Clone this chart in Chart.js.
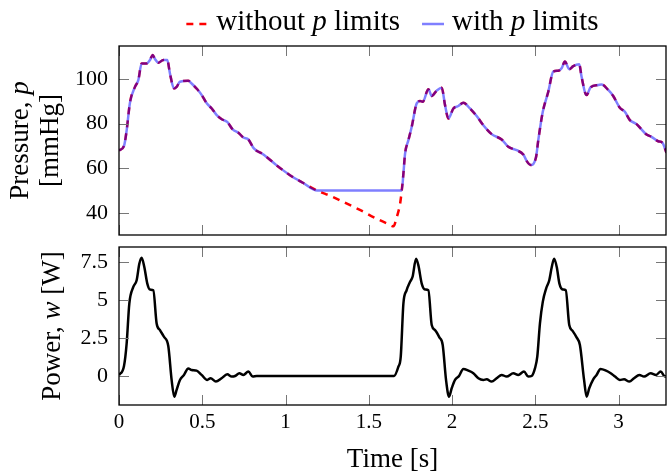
<!DOCTYPE html>
<html>
<head>
<meta charset="utf-8">
<script src="https://cdn.jsdelivr.net/npm/chart.js@4/dist/chart.umd.min.js"></script>
<style>
  body { margin: 0; background: #fff; }
  #wrap { position: relative; width: 667px; height: 473px; }
  canvas { position: absolute; left: 0; }
</style>
</head>
<body>
<div id="wrap">
  <canvas id="pressChart" width="667" height="240" style="top:0"></canvas>
  <canvas id="powerChart" width="667" height="233" style="top:240px"></canvas>
</div>
<script>
// tick values
var xTicks = [0, 0.5, 1, 1.5, 2, 2.5, 3];
var pTicks = [40, 60, 80, 100];
var wTicks = [0, 2.5, 5, 7.5];

// pressure [mmHg] over time [s]
var tPress = [
  0, 0.03, 0.046, 0.066, 0.096, 0.116, 0.136, 0.166, 0.186, 0.202,
  0.216, 0.236, 0.266, 0.29, 0.306, 0.33, 0.346, 0.366, 0.416, 0.436,
  0.47, 0.497, 0.527, 0.557, 0.587, 0.617, 0.65, 0.683, 0.717, 0.747,
  0.777, 0.81, 0.867, 0.947, 1.027, 1.107, 1.19, 1.27, 1.347, 1.45,
  1.547, 1.617, 1.648, 1.668, 1.688, 1.698, 1.708, 1.718, 1.738, 1.758,
  1.788, 1.808, 1.824, 1.858, 1.878, 1.908, 1.938, 1.958, 1.978, 2.008,
  2.038, 2.068, 2.108, 2.148, 2.188, 2.238, 2.298, 2.338, 2.388, 2.428,
  2.448, 2.472, 2.504, 2.518, 2.545, 2.578, 2.608, 2.638, 2.658, 2.678,
  2.704, 2.728, 2.764, 2.778, 2.808, 2.832, 2.878, 2.898, 2.938, 2.968,
  3.008, 3.038, 3.068, 3.108, 3.138, 3.168, 3.198, 3.238, 3.264, 3.288
];
var pWithout = [
  68, 70, 77, 89.5, 96.5, 99.5, 107, 107, 108.5, 110.8,
  109, 107.3, 108.5, 108.5, 102.5, 95.8, 96.5, 98.8, 99.2, 98,
  95.4, 92.8, 89.1, 86.8, 83.8, 82, 80.8, 77.4, 75.9, 73.8,
  72.9, 68.9, 66.2, 61.3, 56.9, 53.4, 50, 47.6, 44.9, 41.2,
  37.4, 35, 34, 38.1, 44.1, 50, 57.6, 66.6, 72.6, 78.6,
  89.1, 90.1, 89.8, 95.4, 92.4, 94.8, 96.1, 88.3, 82.3, 86.8,
  87.9, 89.4, 86.8, 83.4, 79.3, 75.3, 72.9, 69.6, 68.1, 66.2,
  63.3, 61.5, 64.8, 72.6, 85.3, 94.3, 103.3, 103.7, 104.8, 107.8,
  104.4, 105.8, 106.6, 101, 92.8, 96.3, 97.3, 97.6, 95.1, 92.4,
  87.1, 85.3, 81.6, 79.8, 77.4, 75.1, 74.1, 72.1, 71.4, 66.9
];
var pWith = [
  68, 70, 77, 89.5, 96.5, 99.5, 107, 107, 108.5, 110.8,
  109, 107.3, 108.5, 108.5, 102.5, 95.8, 96.5, 98.8, 99.2, 98,
  95.4, 92.8, 89.1, 86.8, 83.8, 82, 80.8, 77.4, 75.9, 73.8,
  72.9, 68.9, 66.2, 61.3, 56.9, 53.4, 50, 50, 50, 50,
  50, 50, 50, 50, 50, 50, 57.6, 66.6, 72.6, 78.6,
  89.1, 90.1, 89.8, 95.4, 92.4, 94.8, 96.1, 88.3, 82.3, 86.8,
  87.9, 89.4, 86.8, 83.4, 79.3, 75.3, 72.9, 69.6, 68.1, 66.2,
  63.3, 61.5, 64.8, 72.6, 85.3, 94.3, 103.3, 103.7, 104.8, 107.8,
  104.4, 105.8, 106.6, 101, 92.8, 96.3, 97.3, 97.6, 95.1, 92.4,
  87.1, 85.3, 81.6, 79.8, 77.4, 75.1, 74.1, 72.1, 71.4, 66.9
];

// power [W] over time [s]
var tPower = [
  0, 0.03, 0.046, 0.062, 0.086, 0.106, 0.122, 0.136, 0.152, 0.17,
  0.186, 0.206, 0.226, 0.246, 0.27, 0.296, 0.316, 0.332, 0.346, 0.366,
  0.39, 0.416, 0.436, 0.466, 0.496, 0.53, 0.55, 0.582, 0.616, 0.65,
  0.677, 0.697, 0.723, 0.747, 0.777, 0.803, 0.827, 1.652, 1.678, 1.692,
  1.708, 1.727, 1.748, 1.763, 1.784, 1.798, 1.818, 1.838, 1.858, 1.878,
  1.898, 1.924, 1.944, 1.964, 1.982, 1.998, 2.018, 2.042, 2.068, 2.098,
  2.128, 2.158, 2.188, 2.208, 2.238, 2.268, 2.298, 2.328, 2.368, 2.398,
  2.432, 2.458, 2.478, 2.498, 2.512, 2.528, 2.545, 2.565, 2.584, 2.599,
  2.613, 2.629, 2.645, 2.665, 2.683, 2.704, 2.724, 2.748, 2.768, 2.793,
  2.808, 2.824, 2.848, 2.868, 2.892, 2.925, 2.953, 2.979, 3.008, 3.033,
  3.065, 3.093, 3.125, 3.153, 3.193, 3.225, 3.253, 3.279, 3.29
];
var power = [
  0.05, 0.66, 2.15, 4.77, 5.86, 6.3, 7.39, 7.79, 7.17, 6.08,
  5.69, 5.64, 3.46, 3.02, 2.58, 1.97, -0.26, -1.36, -0.92, -0.26,
  0.07, 0.5, 0.39, 0.35, 0.07, -0.26, -0.15, -0.37, -0.15, 0.11,
  -0.04, 0, 0.18, 0.07, 0.29, -0.04, 0, 0, 0.61, 1.27,
  4.77, 5.64, 6.2, 6.53, 7.72, 7.28, 6.08, 5.69, 5.64, 3.35,
  3.02, 2.54, 2.04, -0.26, -1.36, -0.81, -0.26, 0, 0.46, 0.35,
  0.18, -0.15, -0.26, -0.22, -0.37, -0.15, 0.07, -0.04, 0.18, 0.07,
  0.29, -0.04, 0, 0.5, 1.27, 3.46, 4.88, 5.75, 6.3, 7.17,
  7.72, 7.17, 6.08, 5.69, 5.64, 3.35, 2.97, 2.54, 2.04, -0.26,
  -1.36, -0.81, -0.22, 0.07, 0.46, 0.35, 0.18, -0.04, -0.26, -0.22,
  -0.37, -0.15, 0.07, -0.04, 0.18, 0.07, 0.29, -0.04, 0
];

var FONT = "'Liberation Serif', 'Times New Roman', serif";
Chart.defaults.font.family = FONT;
Chart.defaults.color = '#000';
Chart.defaults.animation = false;

function pts(xs, ys) {
  return xs.map(function(x, i) { return {x: x, y: ys[i]}; });
}

function partsWidth(ctx, parts, size) {
  var w = 0;
  parts.forEach(function(p) {
    ctx.font = (p[1] ? 'italic ' : '') + size + 'px ' + FONT;
    w += ctx.measureText(p[0]).width;
  });
  return w;
}
function drawParts(ctx, parts, x, y, size) {
  parts.forEach(function(p) {
    ctx.font = (p[1] ? 'italic ' : '') + size + 'px ' + FONT;
    ctx.fillText(p[0], x, y);
    x += ctx.measureText(p[0]).width;
  });
}

// box around the plot with inner tick marks on all sides
var framePlugin = {
  id: 'frame',
  afterDatasetsDraw: function(chart) {
    var a = chart.chartArea, ctx = chart.ctx;
    var xs = chart.scales.x, ys = chart.scales.y;
    var len = 10;
    ctx.save();
    ctx.strokeStyle = '#777';
    ctx.lineWidth = 1;
    ctx.beginPath();
    xTicks.forEach(function(v) {
      var px = Math.round(xs.getPixelForValue(v)) + 0.5;
      ctx.moveTo(px, a.top); ctx.lineTo(px, a.top + len);
      ctx.moveTo(px, a.bottom); ctx.lineTo(px, a.bottom - len);
    });
    ys.ticks.forEach(function(t) {
      var py = Math.round(ys.getPixelForValue(t.value)) + 0.5;
      ctx.moveTo(a.left, py); ctx.lineTo(a.left + len, py);
      ctx.moveTo(a.right, py); ctx.lineTo(a.right - len, py);
    });
    ctx.stroke();
    ctx.strokeStyle = '#000';
    ctx.lineWidth = 1.3;
    ctx.strokeRect(a.left, a.top, a.right - a.left, a.bottom - a.top);
    ctx.restore();
  }
};

// y titles and legend with italic symbols
var richText = {
  id: 'richText',
  afterDraw: function(chart, args, opts) {
    var ctx = chart.ctx, a = chart.chartArea, size = opts.size;
    ctx.save();
    ctx.fillStyle = '#000';
    ctx.textBaseline = 'alphabetic';
    (opts.yTitle || []).forEach(function(line) {
      var w = partsWidth(ctx, line.parts, size);
      ctx.save();
      ctx.translate(line.x, (a.top + a.bottom) / 2);
      ctx.rotate(-Math.PI / 2);
      drawParts(ctx, line.parts, -w / 2, 0, size);
      ctx.restore();
    });
    if (opts.legend) {
      var items = opts.legend, sample = 22, gap = 8, sep = 22;
      var lsize = opts.legendSize;
      var total = 0;
      items.forEach(function(it, i) {
        it.w = partsWidth(ctx, it.parts, lsize);
        total += sample + gap + it.w + (i ? sep : 0);
      });
      var x = (a.left + a.right) / 2 - total / 2;
      items.forEach(function(it) {
        var ds = chart.data.datasets[it.dataset];
        ctx.save();
        ctx.strokeStyle = ds.borderColor;
        ctx.lineWidth = ds.borderWidth;
        ctx.setLineDash(ds.borderDash || []);
        ctx.beginPath();
        ctx.moveTo(x, 24); ctx.lineTo(x + sample, 24);
        ctx.stroke();
        ctx.restore();
        drawParts(ctx, it.parts, x + sample + gap, 30, lsize);
        x += sample + gap + it.w + sep;
      });
    }
    ctx.restore();
  }
};

function xScale(show) {
  return {
    type: 'linear', min: 0, max: 3.285, display: show,
    grid: {display: false, drawTicks: false}, border: {display: false},
    afterBuildTicks: function(s) { s.ticks = xTicks.map(function(v) { return {value: v}; }); },
    afterFit: function(s) {
      if (show) s.height = 68;
      s.paddingLeft = 0; s.paddingRight = 0; s.paddingTop = 0; s.paddingBottom = 0;
    },
    ticks: {padding: 5, maxRotation: 0, autoSkip: false, font: {size: 21},
      callback: function(v) { return String(v); }},
    title: {display: show, text: 'Time [s]', font: {size: 27, lineHeight: 1}, padding: {top: 0, bottom: 0}}
  };
}
function yScale(min, max, ticks) {
  return {
    type: 'linear', min: min, max: max,
    grid: {display: false, drawTicks: false}, border: {display: false},
    afterBuildTicks: function(s) { s.ticks = ticks.map(function(v) { return {value: v}; }); },
    afterFit: function(s) {
      s.width = 119;
      s.paddingLeft = 0; s.paddingRight = 0; s.paddingTop = 0; s.paddingBottom = 0;
    },
    ticks: {padding: 11, font: {size: 22}, callback: function(v) { return String(v); }}
  };
}

new Chart(document.getElementById('pressChart'), {
  type: 'line',
  data: {
    datasets: [{
      label: 'without p limits',
      data: pts(tPress, pWithout),
      borderColor: '#ff0000',
      borderWidth: 2.5,
      borderDash: [7, 6],
      order: 1
    }, {
      label: 'with p limits',
      data: pts(tPress, pWith),
      borderColor: 'rgba(0, 0, 255, 0.5)',
      borderWidth: 2.5,
      order: 0
    }]
  },
  options: {
    responsive: false,
    devicePixelRatio: 1,
    parsing: false,
    layout: {padding: {top: 46, right: 1, bottom: 5, left: 0}},
    elements: {point: {radius: 0}, line: {cubicInterpolationMode: 'monotone'}},
    scales: {x: xScale(false), y: yScale(30.1, 114.8, pTicks)},
    plugins: {
      legend: {display: false},
      tooltip: {enabled: false},
      richText: {
        size: 27,
        legendSize: 29,
        yTitle: [
          {x: 28, parts: [['Pressure, ', 0], ['p', 1]]},
          {x: 58, parts: [['[mmHg]', 0]]}
        ],
        legend: [
          {dataset: 0, parts: [['without ', 0], ['p', 1], [' limits', 0]]},
          {dataset: 1, parts: [['with ', 0], ['p', 1], [' limits', 0]]}
        ]
      }
    }
  },
  plugins: [framePlugin, richText]
});

new Chart(document.getElementById('powerChart'), {
  type: 'line',
  data: {
    datasets: [{
      label: 'Power',
      data: pts(tPower, power),
      borderColor: '#000',
      borderWidth: 2.5
    }]
  },
  options: {
    responsive: false,
    devicePixelRatio: 1,
    parsing: false,
    layout: {padding: {top: 7, right: 1, bottom: 0, left: 0}},
    elements: {point: {radius: 0}, line: {cubicInterpolationMode: 'monotone'}},
    scales: {x: xScale(true), y: yScale(-1.91, 8.49, wTicks)},
    plugins: {
      legend: {display: false},
      tooltip: {enabled: false},
      richText: {
        size: 27,
        yTitle: [
          {x: 60, parts: [['Power, ', 0], ['w', 1], [' [W]', 0]]}
        ]
      }
    }
  },
  plugins: [framePlugin, richText]
});
</script>
</body>
</html>
